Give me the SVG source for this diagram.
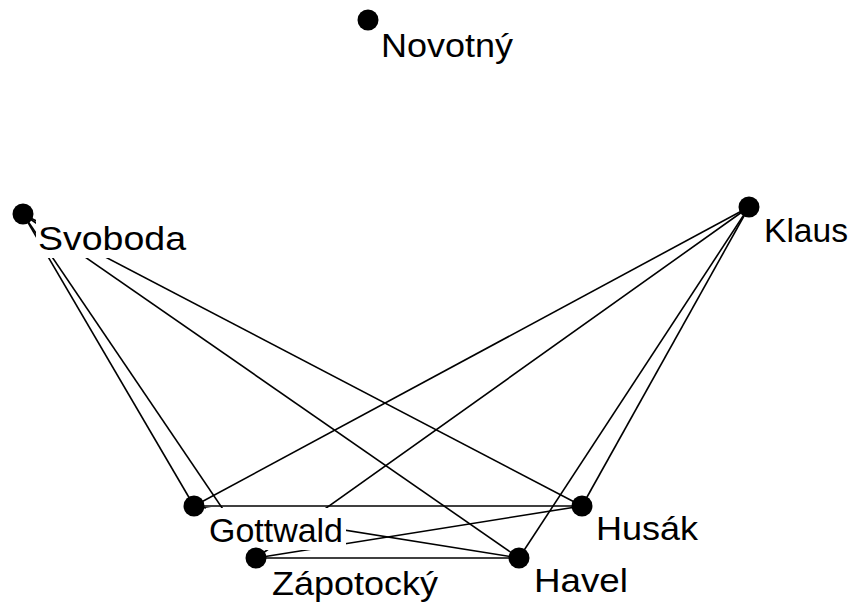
<svg xmlns="http://www.w3.org/2000/svg" width="853" height="603" viewBox="0 0 853 603">
  <style>
    .edge { stroke: #000; stroke-width: 1.6; fill: none; }
    .dot { fill: #000; }
    .bg { fill: #fff; }
    .lbl { font-family: "Liberation Sans", Arial, sans-serif; font-size: 34px; fill: #000; }
  </style>
  <rect width="853" height="603" fill="#fff"/>

  <!-- connectors: centre to centre, label backgrounds drawn over them -->
  <g id="connectors">
    <line class="edge" x1="23" y1="214" x2="194" y2="506"/>
    <line class="edge" x1="23" y1="214" x2="256" y2="558"/>
    <line class="edge" x1="23" y1="214" x2="519" y2="558"/>
    <line class="edge" x1="23" y1="214" x2="582" y2="506"/>
    <line class="edge" x1="749" y1="207" x2="194" y2="506"/>
    <line class="edge" x1="749" y1="207" x2="256" y2="558"/>
    <line class="edge" x1="749" y1="207" x2="582" y2="506"/>
    <line class="edge" x1="749" y1="207" x2="519" y2="558"/>
    <line class="edge" x1="194" y1="506" x2="582" y2="506"/>
    <line class="edge" x1="194" y1="506" x2="519" y2="558"/>
    <line class="edge" x1="256" y1="558" x2="582" y2="506"/>
    <line class="edge" x1="256" y1="558" x2="519" y2="558"/>
  </g>

  <g id="novotny">
    <circle class="dot" cx="368" cy="20" r="10.5"/>
    <rect class="bg" x="378" y="23" width="140" height="42"/>
    <text class="lbl" x="381" y="57" textLength="132" lengthAdjust="spacingAndGlyphs">Novotný</text>
  </g>

  <g id="svoboda">
    <circle class="dot" cx="23" cy="214" r="10.5"/>
    <rect class="bg" x="36" y="216" width="154" height="42"/>
    <text class="lbl" x="38" y="250" textLength="148" lengthAdjust="spacingAndGlyphs">Svoboda</text>
  </g>

  <g id="klaus">
    <circle class="dot" cx="749" cy="207" r="10.5"/>
    <rect class="bg" x="761" y="208" width="90" height="42"/>
    <text class="lbl" x="764" y="242" textLength="84" lengthAdjust="spacingAndGlyphs">Klaus</text>
  </g>

  <g id="gottwald">
    <rect class="bg" x="206" y="508" width="140" height="42"/>
    <circle class="dot" cx="194" cy="506" r="10.5"/>
    <text class="lbl" x="209" y="542" textLength="134" lengthAdjust="spacingAndGlyphs">Gottwald</text>
  </g>

  <g id="husak">
    <rect class="bg" x="593" y="507" width="108" height="42"/>
    <circle class="dot" cx="582" cy="506" r="10.5"/>
    <text class="lbl" x="596" y="540" textLength="102" lengthAdjust="spacingAndGlyphs">Husák</text>
  </g>

  <g id="zapotocky">
    <rect class="bg" x="269" y="561" width="172" height="42"/>
    <circle class="dot" cx="256" cy="558" r="10.5"/>
    <text class="lbl" x="272" y="595" textLength="166" lengthAdjust="spacingAndGlyphs">Zápotocký</text>
  </g>

  <g id="havel">
    <rect class="bg" x="531" y="560" width="100" height="42"/>
    <circle class="dot" cx="519" cy="558" r="10.5"/>
    <text class="lbl" x="534" y="592" textLength="94" lengthAdjust="spacingAndGlyphs">Havel</text>
  </g>
</svg>
